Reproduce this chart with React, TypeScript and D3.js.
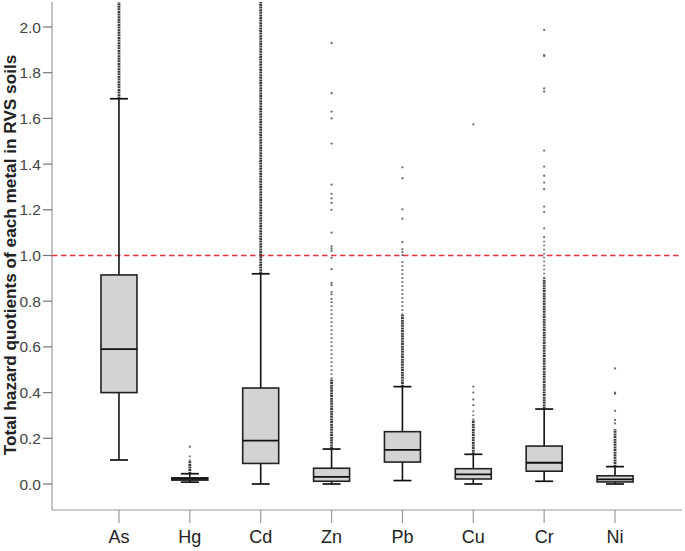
import React from "react";
import * as d3 from "d3";

const categories = ["As", "Hg", "Cd", "Zn", "Pb", "Cu", "Cr", "Ni"];
const whiskerLow = [0.105, 0.008, 0.0, 0.0, 0.015, 0.0, 0.012, 0.0];
const q1 = [0.4, 0.017, 0.09, 0.012, 0.096, 0.022, 0.056, 0.009];
const median = [0.59, 0.022, 0.19, 0.031, 0.149, 0.042, 0.093, 0.02];
const q3 = [0.915, 0.027, 0.42, 0.069, 0.229, 0.067, 0.166, 0.036];
const whiskerHigh = [1.686, 0.045, 0.92, 0.153, 0.426, 0.13, 0.328, 0.076];

// dense runs of outliers (too many to separate), [from, to]
const denseOutliers: [number, number][] = [
  [1.686, 2.11],
  [0.045, 0.1],
  [0.92, 2.11],
  [0.153, 0.46],
  [0.426, 0.74],
  [0.13, 0.28],
  [0.328, 0.9],
  [0.076, 0.24],
];
// lighter, dotted runs of outliers
const lightOutliers: ([number, number] | null)[] = [
  null,
  [0.1, 0.13],
  null,
  [0.46, 0.8],
  [0.74, 0.98],
  [0.28, 0.33],
  [0.9, 1.07],
  null,
];
// individual outliers
const sparseOutliers: number[][] = [
  [],
  [0.163],
  [],
  [0.81, 0.83, 0.84, 0.87, 0.88, 0.94, 0.99, 1.02, 1.03, 1.04, 1.1, 1.2, 1.23, 1.25, 1.27, 1.31, 1.49, 1.6, 1.63, 1.71, 1.93],
  [1.002, 1.015, 1.027, 1.059, 1.161, 1.202, 1.338, 1.386],
  [0.345, 0.37, 0.4, 0.426, 1.574],
  [1.08, 1.119, 1.19, 1.214, 1.29, 1.319, 1.349, 1.389, 1.459, 1.717, 1.731, 1.873, 1.877, 1.987],
  [0.265, 0.28, 0.32, 0.395, 0.4, 0.506],
];

const yTicks = [0, 0.2, 0.4, 0.6, 0.8, 1.0, 1.2, 1.4, 1.6, 1.8, 2.0];
const referenceLevel = 1.0;
const yTitle = "Total hazard quotients of each metal in RVS soils";

const W = 685;
const H = 551;
const axisLeft = 52;
const axisRight = 682;
const axisBottom = 510;
const axisTop = 2;

export default function App() {
  const y = d3.scaleLinear().domain([0, 2.0]).range([484, 27]);
  const x = d3.scalePoint<string>().domain(categories).range([axisLeft, axisRight]).padding(0.945);
  const boxW = 36;
  const capW = 18;
  const axisColor = "#9a9a9a";
  const font = "Liberation Sans, Arial, sans-serif";
  const clip = (v: number) => Math.max(y(v), axisTop);

  return (
    <div style={{ position: "absolute", left: 0, top: 0 }}>
      <svg width={W} height={H} style={{ display: "block", background: "#fff" }}>
        {/* axes */}
        <line x1={axisLeft} x2={axisLeft} y1={axisTop} y2={axisBottom} stroke={axisColor} strokeWidth={1.2} />
        <line x1={axisLeft} x2={axisRight} y1={axisBottom} y2={axisBottom} stroke={axisColor} strokeWidth={1.2} />
        {yTicks.map((t) => (
          <g key={t}>
            <line x1={axisLeft - 9} x2={axisLeft} y1={y(t)} y2={y(t)} stroke="#777" strokeWidth={1.2} />
            <text x={axisLeft - 11} y={y(t)} dy="0.36em" textAnchor="end" fontFamily={font} fontSize={15.5} fill="#444">
              {d3.format(".1f")(t)}
            </text>
          </g>
        ))}
        {categories.map((c) => (
          <g key={c}>
            <line x1={x(c)!} x2={x(c)!} y1={axisBottom} y2={axisBottom + 13} stroke={axisColor} strokeWidth={1.2} />
            <text x={x(c)!} y={axisBottom + 33} textAnchor="middle" fontFamily={font} fontSize={18} fill="#222">
              {c}
            </text>
          </g>
        ))}
        <text
          transform={`translate(15.5, ${255}) rotate(-90)`}
          textAnchor="middle"
          fontFamily={font}
          fontWeight="bold"
          fontSize={17.2}
          fill="#222"
        >
          {yTitle}
        </text>

        {/* reference line */}
        <line
          x1={axisLeft}
          x2={axisRight}
          y1={y(referenceLevel)}
          y2={y(referenceLevel)}
          stroke="#e8323c"
          strokeWidth={1.6}
          strokeDasharray="5.5 3.5"
        />

        {/* boxes */}
        {categories.map((c, i) => {
          const cx = x(c)!;
          const dense = denseOutliers[i];
          const light = lightOutliers[i];
          return (
            <g key={c}>
              <line x1={cx} x2={cx} y1={clip(dense[0])} y2={clip(dense[1])} stroke="#2a2a2a" strokeWidth={2.8} strokeDasharray="2 0.6" opacity={0.9} />
              {light && (
                <line x1={cx} x2={cx} y1={clip(light[0])} y2={clip(light[1])} stroke="#555" strokeWidth={2} strokeDasharray="1.6 2.4" opacity={0.8} />
              )}
              {sparseOutliers[i].map((v, k) => (
                <circle key={k} cx={cx} cy={y(v)} r={1.15} fill="#555" opacity={0.85} />
              ))}
              <line x1={cx} x2={cx} y1={y(whiskerLow[i])} y2={y(q1[i])} stroke="#111" strokeWidth={1.6} />
              <line x1={cx} x2={cx} y1={y(q3[i])} y2={y(whiskerHigh[i])} stroke="#111" strokeWidth={1.6} />
              <line x1={cx - capW / 2} x2={cx + capW / 2} y1={y(whiskerLow[i])} y2={y(whiskerLow[i])} stroke="#111" strokeWidth={1.7} />
              <line x1={cx - capW / 2} x2={cx + capW / 2} y1={y(whiskerHigh[i])} y2={y(whiskerHigh[i])} stroke="#111" strokeWidth={1.7} />
              <rect
                x={cx - boxW / 2}
                y={y(q3[i])}
                width={boxW}
                height={y(q1[i]) - y(q3[i])}
                fill="#d3d3d3"
                stroke="#222"
                strokeWidth={1.6}
              />
              <line x1={cx - boxW / 2} x2={cx + boxW / 2} y1={y(median[i])} y2={y(median[i])} stroke="#111" strokeWidth={1.8} />
            </g>
          );
        })}
      </svg>
    </div>
  );
}
